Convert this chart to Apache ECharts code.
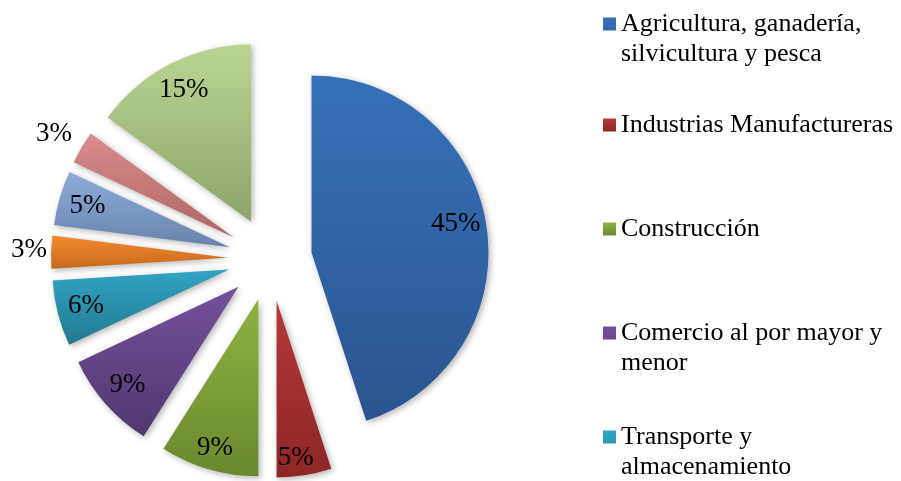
<!DOCTYPE html>
<html>
<head>
<meta charset="utf-8">
<script src="https://cdn.jsdelivr.net/npm/echarts@6/dist/echarts.min.js"></script>
<style>
  html, body { margin: 0; padding: 0; background: #fff; }
  #main { width: 901px; height: 481px; }
</style>
</head>
<body>
<div id="main"></div>
<script>
// sectores (solo los 5 primeros aparecen en la leyenda)
var sectors = [
  'Agricultura, ganadería, silvicultura y pesca',
  'Industrias Manufactureras',
  'Construcción',
  'Comercio al por mayor y menor',
  'Transporte y almacenamiento',
  'Otras actividades 1',
  'Otras actividades 2',
  'Otras actividades 3',
  'Otras actividades 4'
];
var shares = [45, 5, 9, 9, 6, 3, 5, 3, 15];
var legendCount = 5;

// colores: arriba / abajo del degradado
var palette = [
  ['#3671b9', '#2a558f'],
  ['#b83838', '#8c2626'],
  ['#8fb241', '#6a882e'],
  ['#73509c', '#503871'],
  ['#32a4c5', '#22778e'],
  ['#f28c2f', '#c7691c'],
  ['#8facdc', '#6982ab'],
  ['#dc8c8c', '#ad6565'],
  ['#bad591', '#8ca46a']
];

// pequeños ajustes de etiquetas (como en el original de Excel)
var labelNudge = { 0: [-2, -5], 1: [-4, 11], 2: [-2, 6], 5: [4, -2], 7: [-2, -12] };

var myChart = echarts.init(document.getElementById('main'));

var pieData = sectors.map(function (name, i) {
  return {
    name: name,
    value: shares[i],
    selected: true,
    itemStyle: {
      color: new echarts.graphic.LinearGradient(0, 0, 0, 1, [
        { offset: 0, color: palette[i][0] },
        { offset: 1, color: palette[i][1] }
      ])
    }
  };
});

// serie transparente solo para las etiquetas
var labelData = sectors.map(function (name, i) {
  var item = { name: name, value: shares[i], selected: true };
  if (shares[i] < 4) {
    item.label = { position: 'outside' };
  }
  return item;
});

// posición vertical de cada entrada de la leyenda (centro de la 1a línea - 15)
var legendSlots = [
  { top: 9, wrap: true },
  { top: 110, wrap: false },
  { top: 214, wrap: false },
  { top: 318, wrap: true },
  { top: 422, wrap: true }
];

var textFont = {
  fontFamily: 'Liberation Serif',
  color: '#000'
};

option = {
  animation: false,
  legend: legendSlots.slice(0, legendCount).map(function (slot, i) {
    return {
      left: 603,
      top: slot.top,
      orient: 'vertical',
      padding: 0,
      selectedMode: false,
      // el cuadro queda arriba, alineado con la primera línea
      icon: slot.wrap ? 'path://M0,0L13,0L13,13L0,13Z M0,43L13,43' : 'rect',
      itemWidth: 13,
      itemHeight: slot.wrap ? 43 : 13,
      data: [sectors[i]],
      textStyle: {
        fontFamily: textFont.fontFamily,
        fontSize: 26,
        color: textFont.color,
        lineHeight: 30,
        width: 285,
        overflow: 'break'
      }
    };
  }),
  series: [
    {
      type: 'pie',
      center: [270, 259],
      radius: 177,
      startAngle: 90,
      selectedMode: 'multiple',
      selectedOffset: 42,
      avoidLabelOverlap: false,
      emphasis: { disabled: true },
      select: { itemStyle: { borderWidth: 0 } },
      itemStyle: {
        borderWidth: 0,
        shadowBlur: 6,
        shadowColor: 'rgba(0,0,0,0.3)',
        shadowOffsetX: 2,
        shadowOffsetY: 2
      },
      label: { show: false },
      labelLine: { show: false },
      data: pieData
    },
    {
      type: 'pie',
      center: [270, 259],
      radius: [113, 177],
      startAngle: 90,
      selectedMode: 'multiple',
      selectedOffset: 42,
      avoidLabelOverlap: false,
      silent: true,
      emphasis: { disabled: true },
      itemStyle: { color: 'rgba(0,0,0,0)', borderWidth: 0 },
      select: { itemStyle: { borderWidth: 0, color: 'rgba(0,0,0,0)' } },
      label: {
        show: true,
        position: 'inside',
        formatter: '{c}%',
        fontFamily: textFont.fontFamily,
        fontSize: 27,
        color: textFont.color
      },
      labelLine: { show: false, length: 3, length2: 0 },
      labelLayout: function (params) {
        var n = labelNudge[params.dataIndex];
        return n ? { dx: n[0], dy: n[1] } : {};
      },
      data: labelData
    }
  ]
};

myChart.setOption(option);
</script>
</body>
</html>
